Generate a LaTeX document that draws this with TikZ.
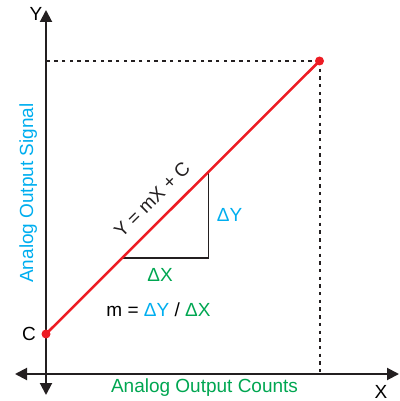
\documentclass[tikz,border=0pt]{standalone}
\usepackage{fontspec}
\setmainfont{Liberation Sans}
\usetikzlibrary{arrows.meta, calc}
\definecolor{sigblue}{HTML}{00AEEF}
\definecolor{cntgreen}{HTML}{00A651}
\definecolor{lnred}{HTML}{ED1C24}
\definecolor{axgray}{HTML}{231F20}

\begin{document}
\begin{tikzpicture}[x=1pt, y=-1pt, >={Triangle[length=12pt, width=12pt]},
    font=\fontsize{19}{22}\selectfont,
    axis/.style={draw=axgray, line width=2pt},
    guide/.style={draw=axgray, line width=2pt, dash pattern=on 3.4pt off 4.3pt},
    tri/.style={draw=axgray, line width=1.2pt},
    redline/.style={draw=lnred, line width=2.5pt},
    dot/.style={circle, fill=lnred, inner sep=0pt, minimum size=9pt}]

    \useasboundingbox (0,0) rectangle (399,401);

    % axes
    \coordinate (o) at (46,374);
    \coordinate (ytop) at (46,10);
    \coordinate (ybot) at (46,395);
    \coordinate (xleft) at (15,374);
    \coordinate (xright) at (399,374);
    \draw[axis, <->] (ybot) -- (ytop);
    \draw[axis, <->] (xleft) -- (xright);
    \node (ylab) at (36,14) {Y};
    \node (xlab) at (381,392) {X};
    \node[text=cntgreen] (xname) at (204.5,388) {Analog Output Counts};
    \node[text=sigblue, rotate=90] (yname) at (28.3,193) {Analog Output Signal};

    % end points
    \coordinate (c) at (46,334);
    \coordinate (p) at (319.5,61);
    \node (clab) at (29,334) {C};

    % dashed guides
    \draw[guide] (p) -- (p -| o);
    \draw[guide] (p) -- (p |- o);

    % slope triangle
    \coordinate (t1) at ($(c)!0.2785!(p)$);
    \coordinate (t3) at ($(c)!0.595!(p)$);
    \coordinate (t2) at (t3 |- t1);
    \draw[tri] (t1) -- (t2) -- (t3);
    \node[text=sigblue] (dy) at (229.5,215) {ΔY};
    \node[text=cntgreen] (dx) at (160,275) {ΔX};
    \node (slope) at (158.5,310) {m = \textcolor{sigblue}{ΔY} / \textcolor{cntgreen}{ΔX}};

    % line
    \draw[redline] (c) -- (p) node[pos=0.44, sloped, above=9pt, text=axgray] (eq) {Y = mX + C};
    \node[dot] (cdot) at (c) {};
    \node[dot] (pdot) at (p) {};

\end{tikzpicture}
\end{document}
